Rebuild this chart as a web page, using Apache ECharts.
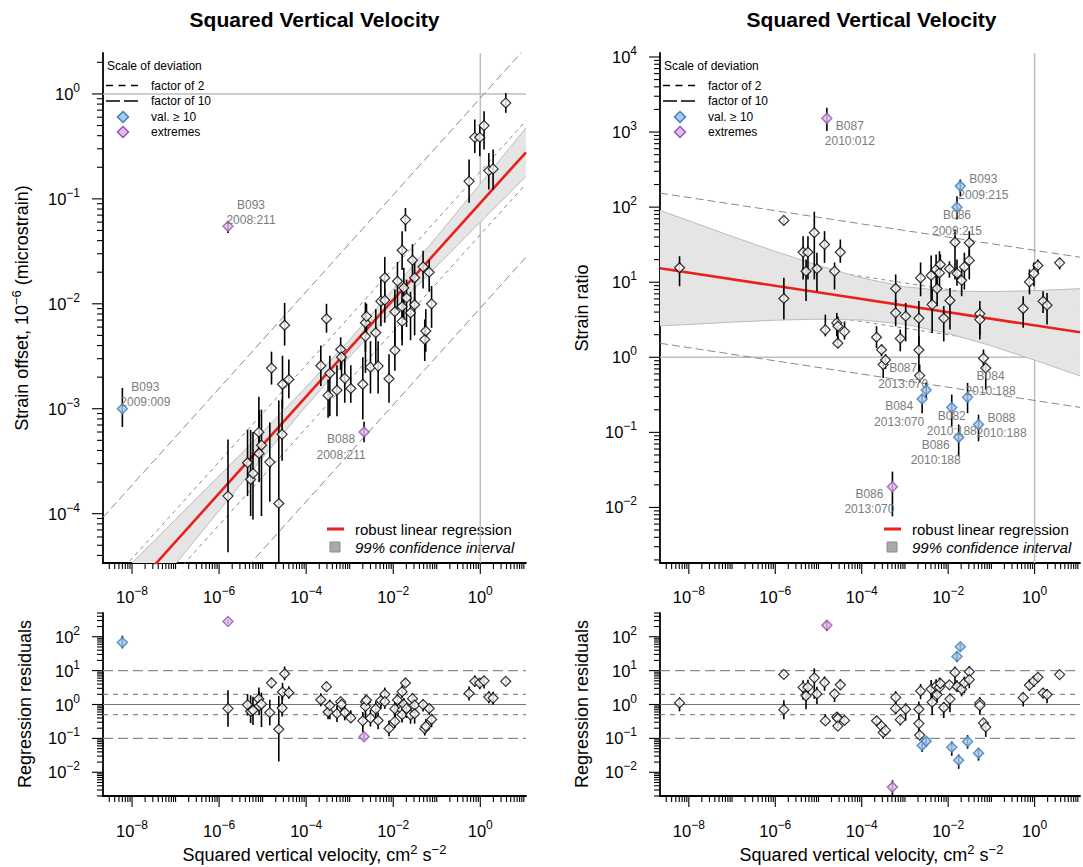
<!DOCTYPE html>
<html>
<head>
<meta charset="utf-8">
<script src="https://cdn.jsdelivr.net/npm/echarts@6/dist/echarts.min.js"></script>
<style>
  html, body { margin: 0; padding: 0; background: #ffffff; }
  #chart { width: 1083px; height: 867px; }
</style>
</head>
<body>
<div id="chart"></div>
<script>
// ---------------------------------------------------------------
// Strain offsets against squared vertical velocity (cm^2 s^-2)
// ---------------------------------------------------------------
const offsetVel = [6.0e-9, 1.6e-6, 1.6e-6, 4.5e-6, 5.3e-6, 6.0e-6, 8.2e-6, 8.3e-6, 9.4e-6, 1.46e-5,
  1.6e-5, 2.35e-5, 2.8e-5, 2.86e-5, 3.2e-5, 4.0e-5, 2.17e-4, 2.93e-4, 3.19e-4, 3.5e-4,
  5.1e-4, 6.2e-4, 6.5e-4, 7.7e-4, 1.06e-3, 2.0e-3, 2.14e-3, 2.3e-3, 2.3e-3, 2.43e-3,
  3.0e-3, 3.97e-3, 4.5e-3, 5.2e-3, 6.4e-3, 6.4e-3, 8.0e-3, 1.09e-2, 1.09e-2, 1.25e-2,
  1.6e-2, 1.6e-2, 1.6e-2, 1.75e-2, 1.91e-2, 2.02e-2, 2.5e-2, 2.77e-2, 3.1e-2, 3.1e-2,
  4.85e-2, 5.3e-2, 5.6e-2, 6.7e-2, 7.6e-2, 0.553, 0.748, 0.975, 1.22, 1.57,
  1.97, 3.85];
const offsetVal = [1.0e-3, 0.0548, 1.47e-4, 3.06e-4, 2.12e-4, 2.42e-4, 5.98e-4, 3.75e-4, 4.5e-4, 3.1e-4,
  2.44e-3, 1.25e-4, 5.7e-4, 1.71e-3, 6.25e-3, 1.9e-3, 2.57e-3, 7.2e-3, 1.34e-3, 2.18e-3,
  1.5e-3, 3.67e-3, 3.1e-3, 1.95e-3, 1.56e-3, 1.71e-3, 6.0e-4, 6.6e-3, 4.9e-3, 7.6e-3,
  2.49e-3, 5.3e-3, 2.55e-3, 1.06e-2, 1.77e-2, 1.08e-2, 1.93e-3, 8.4e-3, 3.6e-3, 1.64e-2,
  3.24e-2, 9.4e-3, 6.8e-3, 1.42e-2, 6.35e-2, 1.14e-2, 8.2e-3, 2.6e-2, 1.77e-2, 9.8e-3,
  2.25e-2, 4.57e-3, 5.5e-3, 2.0e-2, 1.0e-2, 0.147, 0.386, 0.386, 0.499, 0.186,
  0.193, 0.821];
const offsetLow = [6.7e-4, 0.0474, 4.3e-5, 1.47e-4, 9.5e-5, 8.8e-5, 3.5e-4, 2.0e-4, 9.5e-5, 1.3e-4,
  1.7e-3, 1.4e-5, 3.2e-4, 1.0e-3, 4.0e-3, 1.26e-3, 1.65e-3, 5.3e-3, 8.2e-4, 8.5e-4,
  8.5e-4, 2.35e-3, 1.9e-3, 1.14e-3, 1.14e-3, 7.9e-4, 4.8e-4, 3.5e-3, 2.2e-3, 4.9e-3,
  1.4e-3, 2.6e-3, 1.4e-3, 6.1e-3, 1.06e-2, 6.6e-3, 1.14e-3, 3.7e-3, 2.3e-3, 9.0e-3,
  2.1e-2, 4.5e-3, 4.0e-3, 7.0e-3, 4.9e-2, 6.0e-3, 4.5e-3, 1.6e-2, 1.0e-2, 5.0e-3,
  1.4e-2, 2.85e-3, 3.5e-3, 1.3e-2, 5.9e-3, 0.0916, 0.274, 0.255, 0.295, 0.123,
  0.123, 0.66];
const offsetHigh = [1.58e-3, 0.0615, 5.1e-4, 6.3e-4, 6.3e-4, 6.0e-4, 1.3e-3, 9.8e-4, 9.8e-4, 7.4e-4,
  3.5e-3, 1.2e-3, 1.23e-3, 3.2e-3, 1.02e-2, 2.95e-3, 4.0e-3, 1.0e-2, 1.9e-3, 3.2e-3,
  2.6e-3, 4.8e-3, 4.0e-3, 3.2e-3, 2.6e-3, 3.1e-3, 7.5e-4, 1.03e-2, 8.5e-3, 1.0e-2,
  4.4e-3, 8.9e-3, 4.4e-3, 1.7e-2, 2.8e-2, 1.37e-2, 3.3e-3, 1.37e-2, 6.1e-3, 2.5e-2,
  4.9e-2, 1.5e-2, 1.1e-2, 2.2e-2, 8.2e-2, 1.7e-2, 1.3e-2, 3.7e-2, 2.6e-2, 1.5e-2,
  3.2e-2, 7.1e-3, 8.9e-3, 2.6e-2, 1.48e-2, 0.237, 0.569, 0.49, 0.683, 0.274,
  0.295, 1.02];
// 0 ordinary, 1 deviation of at least a factor 10, 2 extreme
const offsetKind = [1, 2, 0, 0, 0, 0, 0, 0, 0, 0, 0, 0, 0, 0, 0, 0, 0, 0, 0, 0,
  0, 0, 0, 0, 0, 0, 2, 0, 0, 0, 0, 0, 0, 0, 0, 0, 0, 0, 0, 0,
  0, 0, 0, 0, 0, 0, 0, 0, 0, 0, 0, 0, 0, 0, 0, 0, 0, 0, 0, 0, 0, 0];
const offsetLabelIdx = [0, 1, 26];
const offsetLabelText = ['B093\n2009:009', 'B093\n2008:211', 'B088\n2008:211'];

// ---------------------------------------------------------------
// Strain ratios against squared vertical velocity
// ---------------------------------------------------------------
const ratioVel = [6.1e-9, 1.58e-6, 1.58e-6, 4.4e-6, 5.15e-6, 5.7e-6, 8.0e-6, 9.2e-6, 1.38e-5, 1.44e-5,
  1.56e-5, 2.35e-5, 2.65e-5, 2.8e-5, 2.8e-5, 3.2e-5, 4.0e-5, 2.2e-4, 2.87e-4, 3.14e-4,
  3.55e-4, 5.13e-4, 6.1e-4, 6.1e-4, 7.8e-4, 1.04e-3, 2.1e-3, 2.1e-3, 2.19e-3, 2.3e-3,
  2.5e-3, 3.1e-3, 4.04e-3, 4.26e-3, 5.26e-3, 5.55e-3, 6.3e-3, 6.6e-3, 7.9e-3, 1.07e-2,
  1.1e-2, 1.21e-2, 1.44e-2, 1.6e-2, 1.6e-2, 1.75e-2, 1.91e-2, 2.05e-2, 2.37e-2, 2.81e-2,
  3.08e-2, 3.08e-2, 5.04e-2, 5.4e-2, 5.4e-2, 6.56e-2, 7.4e-2, 0.544, 0.76, 0.96,
  1.19, 1.57, 1.94, 3.79];
const ratioVal = [15.6, 66.5, 6.07, 25.1, 14.0, 25.1, 45.6, 15.1, 31.8, 2.32,
  1524, 14.0, 2.87, 2.59, 1.54, 25.1, 2.2, 1.85, 1.26, 0.80,
  0.92, 0.0189, 8.24, 3.91, 1.78, 3.52, 3.31, 1.25, 0.57, 11.4,
  0.279, 0.367, 12.3, 5.04, 14.8, 8.24, 13.3, 17.2, 3.31, 15.1,
  5.7, 0.215, 34.1, 100, 13.1, 0.0858, 190.5, 10.6, 16.0, 0.293,
  33.5, 19.5, 0.127, 3.79, 3.18, 0.97, 0.72, 4.46, 10.1, 13.1,
  16.7, 5.58, 4.93, 18.1];
const ratioLow = [8.85, 58, 3.18, 10.9, 5.6, 10.9, 10.9, 7.6, 18.1, 1.9,
  1031, 8.0, 1.9, 1.7, 1.33, 18.1, 1.72, 1.33, 1.03, 0.53,
  0.70, 0.0076, 5.3, 2.59, 1.2, 1.63, 1.27, 0.56, 0.456, 6.5,
  0.18, 0.288, 5.4, 2.1, 8.0, 4.8, 8.0, 12, 1.63, 11.5,
  2.34, 0.12, 10.9, 68.5, 9.0, 0.048, 140, 6.5, 8.0, 0.18,
  18.1, 10.9, 0.076, 1.72, 2.0, 0.69, 0.37, 2.47, 6.9, 8.85,
  13.3, 3.9, 2.73, 14.8];
const ratioHigh = [22.2, 75, 11.5, 41, 20.1, 41, 86.9, 24.7, 47.9, 3.7,
  2115, 18.3, 3.9, 3.5, 1.9, 37, 3.0, 2.59, 1.48, 0.93,
  1.1, 0.030, 12.7, 5.9, 2.34, 5.3, 5.6, 1.9, 0.8, 18.3,
  0.318, 0.46, 22.7, 8.0, 23.4, 12, 25.9, 23.4, 4.8, 19,
  8.4, 0.318, 50.4, 140, 20, 0.127, 234, 15, 24.7, 0.456,
  47.9, 27.3, 0.172, 5.6, 4.6, 1.27, 0.8, 6.5, 14.8, 18.3,
  20.1, 7.6, 7.2, 21.1];
const ratioKind = [0, 0, 0, 0, 0, 0, 0, 0, 0, 0, 2, 0, 0, 0, 0, 0, 0, 0, 0, 0,
  0, 2, 0, 0, 0, 0, 0, 0, 0, 0, 1, 1, 0, 0, 0, 0, 0, 0, 0, 0,
  0, 1, 0, 1, 0, 1, 1, 0, 0, 1, 0, 0, 1, 0, 0, 0, 0, 0, 0, 0, 0, 0, 0, 0];
const ratioLabelIdx = [10, 46, 43, 31, 30, 49, 41, 52, 45, 21];
const ratioLabelText = ['B087\n2010:012', 'B093\n2009:215', 'B086\n2009:215', 'B087\n2013:070',
  'B084\n2013:070', 'B084\n2010:188', 'B082\n2010:188', 'B088\n2010:188', 'B086\n2010:188', 'B086\n2013:070'];

// Robust fits in log10 space: log10(y) = intercept + slope * log10(x)
const offsetFit = [-1.04, 0.461];
const ratioFit = [0.425, -0.0879];

// 99% confidence band of each fit
const bandVel = [2.15e-9, 1e-7, 1e-6, 1e-5, 1e-4, 1e-3, 1e-2, 1e-1, 1, 11.2];
const offsetBandLow = [4.68e-6, 3.32e-5, 1.07e-4, 3.40e-4, 1.06e-3, 3.13e-3, 8.65e-3, 2.29e-2, 5.98e-2, 0.163];
const offsetBandHigh = [1.80e-5, 8.81e-5, 2.29e-4, 6.0e-4, 1.61e-3, 4.55e-3, 1.38e-2, 4.35e-2, 0.139, 0.475];
const ratioBandLow = [2.61, 2.94, 3.12, 3.22, 3.14, 2.75, 2.08, 1.42, 0.917, 0.565];
const ratioBandHigh = [90.6, 40.8, 25.7, 16.7, 11.4, 8.69, 7.64, 7.48, 7.72, 8.2];

// Scale-of-deviation factors
const deviationFactors = [2, 10];

// ---------------------------------------------------------------
// Layout and styling
// ---------------------------------------------------------------
const FONT = '"Liberation Sans", Arial, Helvetica, sans-serif';
const RED = '#e8211d';
const X_RANGE = [Math.pow(10, -8.667), Math.pow(10, 1.05)];
const OFFSET_RANGE = [Math.pow(10, -4.47), Math.pow(10, 0.39)];
const RATIO_RANGE = [Math.pow(10, -2.74), Math.pow(10, 4.053)];
const RESID_RANGE = [Math.pow(10, -2.7), Math.pow(10, 2.7)];
const GRIDS = [
  { left: 103, top: 53, width: 423, height: 510 },
  { left: 103, top: 613, width: 423, height: 183 },
  { left: 660, top: 53, width: 423, height: 510 },
  { left: 660, top: 613, width: 423, height: 183 }
];
const KIND_STYLE = [
  { color: '#ffffff', borderColor: '#000000', borderWidth: 1.2 },
  { color: '#a9cbe9', borderColor: '#3c80c2', borderWidth: 1.5 },
  { color: '#dcc2e6', borderColor: '#9c52b6', borderWidth: 1.5 }
];
const LABEL_SHIFT = { ur: [23, -14], ul: [-23, -14], lr: [23, 15], ll: [-23, 15], r: [23, 1], b: [0, 16] };
const offsetLabelPos = ['ur', 'ur', 'll'];
const ratioLabelPos = ['lr', 'r', 'b', 'ul', 'll', 'ur', 'b', 'r', 'll', 'll'];

// drawing order inside a panel
const Z = { ref: 1, band: 2, fit: 3, bars: 4, points: 5, ticks: 6, labels: 7 };

const log10 = Math.log10;
const fitAt = (fit, x) => Math.pow(10, fit[0] + fit[1] * log10(x));

const RICH = {
  b: { fontFamily: FONT, fontSize: 16.5, lineHeight: 24, verticalAlign: 'middle', color: '#000' },
  s: { fontFamily: FONT, fontSize: 12, lineHeight: 10, verticalAlign: 'top', color: '#000' }
};
function powerLabel(v, evenOnly) {
  const e = log10(v);
  const r = Math.round(e);
  if (Math.abs(e - r) > 1e-6) return '';
  if (evenOnly && r % 2 !== 0) return '';
  return '{b|10}{s|' + (r < 0 ? '\u2212' + (-r) : r) + '}';
}
function xAxisFor(gi, margin) {
  return {
    type: 'log', logBase: 10, gridIndex: gi, position: 'bottom',
    min: X_RANGE[0], max: X_RANGE[1], splitNumber: 10,
    axisLine: { show: true, onZero: false, lineStyle: { color: '#000', width: 1.8 } },
    axisTick: { show: false }, minorTick: { show: false }, splitLine: { show: false },
    axisLabel: { margin: margin, formatter: v => powerLabel(v, true), rich: RICH }
  };
}
function yAxisFor(gi, range) {
  return {
    type: 'log', logBase: 10, gridIndex: gi, position: 'left',
    min: range[0], max: range[1], splitNumber: 10,
    axisLine: { show: true, onZero: false, lineStyle: { color: '#000', width: 1.8 } },
    axisTick: { show: false }, minorTick: { show: false }, splitLine: { show: false },
    axisLabel: { margin: 23, align: 'right', formatter: v => powerLabel(v, false), rich: RICH }
  };
}

// Tick marks in the 1..9 x 10^k pattern, long ones on labelled decades
function tickSeries(gi, yRange) {
  return {
    type: 'custom', coordinateSystem: 'cartesian2d', xAxisIndex: gi, yAxisIndex: gi,
    clip: false, silent: true, z: Z.ticks,
    data: [[X_RANGE[0], yRange[0]]],
    renderItem(params, api) {
      const cs = params.coordSys;
      const bottom = cs.y + cs.height, left = cs.x;
      const kids = [];
      const st = { stroke: '#000', lineWidth: 1.1 };
      for (let e = -10; e <= 5; e++) {
        for (let m = 1; m <= 9; m++) {
          const v = m * Math.pow(10, e);
          if (v >= X_RANGE[0] && v <= X_RANGE[1]) {
            const px = api.coord([v, yRange[0]])[0];
            const len = (m === 1 && e % 2 === 0) ? 11 : 6;
            kids.push({ type: 'line', shape: { x1: px, y1: bottom, x2: px, y2: bottom + len }, style: st });
          }
          if (v >= yRange[0] && v <= yRange[1]) {
            const py = api.coord([X_RANGE[0], v])[1];
            const len = m === 1 ? 11 : 6;
            kids.push({ type: 'line', shape: { x1: left, y1: py, x2: left - len, y2: py }, style: st });
          }
        }
      }
      return { type: 'group', children: kids };
    }
  };
}

function segment(gi, pts, color, width, dash, z) {
  return {
    type: 'line', xAxisIndex: gi, yAxisIndex: gi, data: pts, symbol: 'none', silent: true, z: z,
    lineStyle: { color: color, width: width, type: dash || 'solid' }, animation: false
  };
}

function errorBarSeries(gi, xs, lo, hi) {
  return {
    type: 'custom', coordinateSystem: 'cartesian2d', xAxisIndex: gi, yAxisIndex: gi, clip: true, silent: true,
    z: Z.bars,
    data: xs.map((x, i) => [x, lo[i], hi[i]]),
    renderItem(params, api) {
      const a = api.coord([api.value(0), api.value(1)]);
      const b = api.coord([api.value(0), api.value(2)]);
      return { type: 'line', shape: { x1: a[0], y1: a[1], x2: b[0], y2: b[1] }, style: { stroke: '#000', lineWidth: 1.6 } };
    }
  };
}

function pointSeries(gi, xs, ys, kind) {
  const order = xs.map((x, i) => i).sort((a, b) => kind[a] - kind[b]);
  return {
    type: 'scatter', xAxisIndex: gi, yAxisIndex: gi, symbol: 'diamond', symbolSize: 10, silent: true,
    z: Z.points,
    data: order.map(i => ({ value: [xs[i], ys[i]], itemStyle: KIND_STYLE[kind[i]] })),
    emphasis: { disabled: true }
  };
}

function bandSeries(gi, lo, hi) {
  return {
    type: 'custom', coordinateSystem: 'cartesian2d', xAxisIndex: gi, yAxisIndex: gi, clip: true, silent: true,
    z: Z.band,
    data: [[bandVel[0], lo[0]]],
    renderItem(params, api) {
      const upper = bandVel.map((x, i) => api.coord([x, hi[i]]));
      const lower = bandVel.map((x, i) => api.coord([x, lo[i]]));
      return {
        type: 'group', children: [
          { type: 'polygon', shape: { points: upper.concat(lower.slice().reverse()) }, style: { fill: '#e5e5e5', stroke: null } },
          { type: 'polyline', shape: { points: upper }, style: { stroke: '#bcbcbc', lineWidth: 1, fill: null } },
          { type: 'polyline', shape: { points: lower }, style: { stroke: '#bcbcbc', lineWidth: 1, fill: null } }
        ]
      };
    }
  };
}

function labelSeries(gi, xs, ys, idx, texts, pos) {
  return {
    type: 'custom', coordinateSystem: 'cartesian2d', xAxisIndex: gi, yAxisIndex: gi, clip: false, silent: true,
    z: Z.labels,
    data: idx.map((i, k) => [xs[i], ys[i], k]),
    renderItem(params, api) {
      const p = api.coord([api.value(0), api.value(1)]);
      const k = api.value(2);
      const d = LABEL_SHIFT[pos[k]];
      return {
        type: 'text', x: p[0] + d[0], y: p[1] + d[1],
        style: { text: texts[k], textAlign: 'center', textVerticalAlign: 'middle', fill: '#7c7c7c', font: '12px ' + FONT, lineHeight: 15.5 }
      };
    }
  };
}

function mainPanel(gi, xs, ys, lo, hi, kind, fit, bandLo, bandHi, yRange, lblIdx, lblText, lblPos) {
  const f0 = fitAt(fit, X_RANGE[0]), f1 = fitAt(fit, X_RANGE[1]);
  const s = [];
  s.push(segment(gi, [[X_RANGE[0], 1], [X_RANGE[1], 1]], '#bebebe', 1.5, null, Z.ref));
  s.push(segment(gi, [[1, yRange[0]], [1, yRange[1]]], '#bebebe', 1.5, null, Z.ref));
  deviationFactors.forEach(fac => {
    const dash = fac === 2 ? [4, 4] : [8, 4];
    s.push(segment(gi, [[X_RANGE[0], f0 * fac], [X_RANGE[1], f1 * fac]], '#8a8a8a', 1, dash, Z.ref));
    s.push(segment(gi, [[X_RANGE[0], f0 / fac], [X_RANGE[1], f1 / fac]], '#8a8a8a', 1, dash, Z.ref));
  });
  s.push(bandSeries(gi, bandLo, bandHi));
  s.push(segment(gi, [[X_RANGE[0], f0], [X_RANGE[1], f1]], RED, 2.6, null, Z.fit));
  s.push(errorBarSeries(gi, xs, lo, hi));
  s.push(pointSeries(gi, xs, ys, kind));
  s.push(labelSeries(gi, xs, ys, lblIdx, lblText, lblPos));
  s.push(tickSeries(gi, yRange));
  return s;
}

function residualPanel(gi, xs, ys, lo, hi, kind, fit) {
  const fv = xs.map(x => fitAt(fit, x));
  const r = ys.map((y, i) => y / fv[i]);
  const rLo = lo.map((y, i) => y / fv[i]);
  const rHi = hi.map((y, i) => y / fv[i]);
  const s = [];
  s.push(segment(gi, [[X_RANGE[0], 1], [X_RANGE[1], 1]], '#777777', 1.1, null, Z.ref));
  deviationFactors.forEach(fac => {
    const dash = fac === 2 ? [5, 5] : [10, 5];
    s.push(segment(gi, [[X_RANGE[0], fac], [X_RANGE[1], fac]], '#8a8a8a', 1.2, dash, Z.ref));
    s.push(segment(gi, [[X_RANGE[0], 1 / fac], [X_RANGE[1], 1 / fac]], '#8a8a8a', 1.2, dash, Z.ref));
  });
  s.push(errorBarSeries(gi, xs, rLo, rHi));
  s.push(pointSeries(gi, xs, r, kind));
  s.push(tickSeries(gi, RESID_RANGE));
  return s;
}

// Legend blocks drawn inside each upper panel
function diamond(cx, cy, st) {
  const h = 5.5;
  return { type: 'polygon', shape: { points: [[cx, cy - h], [cx + h, cy], [cx, cy + h], [cx - h, cy]] },
    style: { fill: st.color, stroke: st.borderColor, lineWidth: 1.5 } };
}
function txt(x, y, text, font, extra) {
  return { type: 'text', x: x, y: y, style: Object.assign({ text: text, font: font || ('12px ' + FONT), fill: '#000', textVerticalAlign: 'middle' }, extra || {}) };
}
function legendBlock(L) {
  return [
    txt(L + 4, 66, 'Scale of deviation'),
    { type: 'line', shape: { x1: L + 3, y1: 85.5, x2: L + 37, y2: 85.5 }, style: { stroke: '#000', lineWidth: 1.6, lineDash: [7, 5.5] } },
    txt(L + 48, 85.5, 'factor of 2'),
    { type: 'line', shape: { x1: L + 3, y1: 101, x2: L + 37, y2: 101 }, style: { stroke: '#000', lineWidth: 1.6, lineDash: [14, 4] } },
    txt(L + 48, 101, 'factor of 10'),
    diamond(L + 20, 117, KIND_STYLE[1]),
    txt(L + 48, 117, 'val. \u2265 10'),
    diamond(L + 20, 132, KIND_STYLE[2]),
    txt(L + 48, 132, 'extremes'),
    { type: 'line', shape: { x1: L + 224, y1: 529, x2: L + 241, y2: 529 }, style: { stroke: RED, lineWidth: 3 } },
    txt(L + 252, 529, 'robust linear regression', '15px ' + FONT),
    { type: 'rect', shape: { x: L + 227, y: 542, width: 10, height: 10 }, style: { fill: '#aaaaaa', stroke: '#8a8a8a', lineWidth: 1 } },
    txt(L + 252, 547, '99% confidence interval', 'italic 15px ' + FONT)
  ];
}

const TITLE_FONT = 'bold 21px ' + FONT;
const AXIS_FONT = '18px ' + FONT;
const SUP_RICH = {
  n: { fontFamily: FONT, fontSize: 18, lineHeight: 24, verticalAlign: 'middle', color: '#000' },
  s: { fontFamily: FONT, fontSize: 13, lineHeight: 11, verticalAlign: 'top', color: '#000' }
};
function richText(x, y, text, rotate) {
  return { type: 'text', x: x, y: y, rotation: rotate ? Math.PI / 2 : 0,
    style: { text: text, rich: SUP_RICH, textAlign: 'center', textVerticalAlign: 'middle', font: AXIS_FONT, fill: '#000' } };
}

const graphics = [].concat(
  [
    txt(314.5, 19, 'Squared Vertical Velocity', TITLE_FONT, { textAlign: 'center' }),
    txt(871.5, 19, 'Squared Vertical Velocity', TITLE_FONT, { textAlign: 'center' }),
    richText(22, 308, '{n|Strain offset, 10}{s|\u22126}{n| (microstrain)}', true),
    richText(582, 308, '{n|Strain ratio}', true),
    richText(25, 704, '{n|Regression residuals}', true),
    richText(582, 704, '{n|Regression residuals}', true),
    richText(314.5, 855, '{n|Squared vertical velocity, cm}{s|2}{n| s}{s|\u22122}', false),
    richText(871.5, 855, '{n|Squared vertical velocity, cm}{s|2}{n| s}{s|\u22122}', false)
  ],
  legendBlock(103),
  legendBlock(660)
);

const option = {
  animation: false,
  backgroundColor: '#ffffff',
  textStyle: { fontFamily: FONT },
  grid: GRIDS.map(g => Object.assign({ containLabel: false }, g)),
  xAxis: [xAxisFor(0, 22), xAxisFor(1, 23), xAxisFor(2, 22), xAxisFor(3, 23)],
  yAxis: [yAxisFor(0, OFFSET_RANGE), yAxisFor(1, RESID_RANGE), yAxisFor(2, RATIO_RANGE), yAxisFor(3, RESID_RANGE)],
  series: [].concat(
    mainPanel(0, offsetVel, offsetVal, offsetLow, offsetHigh, offsetKind, offsetFit, offsetBandLow, offsetBandHigh,
      OFFSET_RANGE, offsetLabelIdx, offsetLabelText, offsetLabelPos),
    residualPanel(1, offsetVel, offsetVal, offsetLow, offsetHigh, offsetKind, offsetFit),
    mainPanel(2, ratioVel, ratioVal, ratioLow, ratioHigh, ratioKind, ratioFit, ratioBandLow, ratioBandHigh,
      RATIO_RANGE, ratioLabelIdx, ratioLabelText, ratioLabelPos),
    residualPanel(3, ratioVel, ratioVal, ratioLow, ratioHigh, ratioKind, ratioFit)
  ),
  graphic: { elements: graphics }
};

const chart = echarts.init(document.getElementById('chart'), null, { renderer: 'svg' });
chart.setOption(option);
</script>
</body>
</html>
